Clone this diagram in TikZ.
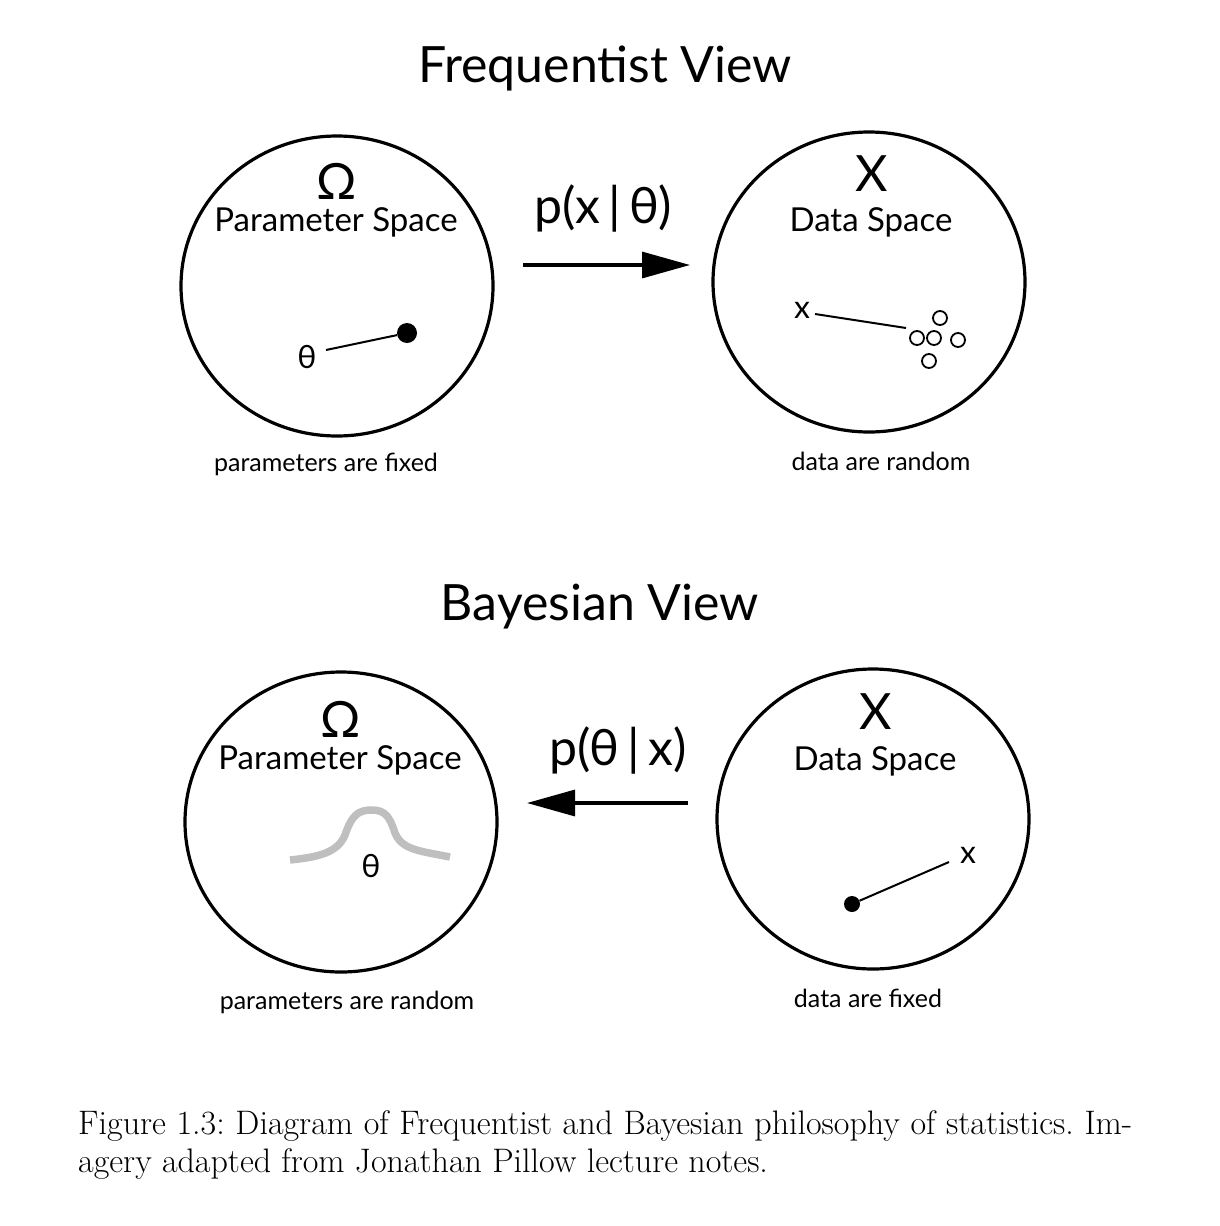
\documentclass[tikz,border=0pt]{standalone}
\usepackage{fontspec}
\setmainfont{Latin Modern Roman}
\newfontfamily\dsans{Lato}
\usetikzlibrary{arrows.meta,shapes.geometric}
\begin{document}
\begin{tikzpicture}[x=1pt,y=-1pt,
  space/.style={draw,line width=3.2pt,ellipse,minimum width=312pt,minimum height=300pt,inner sep=0pt},
  ttl/.style={inner sep=0pt,font=\dsans\fontsize{50}{60}\selectfont},
  big/.style={inner sep=0pt,font=\dsans\fontsize{50}{60}\selectfont},
  sub/.style={inner sep=0pt,font=\dsans\fontsize{33}{40}\selectfont},
  lab/.style={inner sep=0pt,font=\dsans\fontsize{25}{30}\selectfont},
  var/.style={inner sep=0pt,font=\dsans\fontsize{32}{38}\selectfont},
  prob/.style={inner sep=0pt,font=\dsans\fontsize{50}{58}\selectfont},
  thin/.style={line width=2pt},
  dot/.style={circle,fill=black,inner sep=0pt},
  odot/.style={circle,draw,line width=1.8pt,minimum size=14pt,inner sep=0pt},
  bigarrow/.style={line width=3.2pt,-{Triangle[length=48pt,width=26pt]}}
]
\useasboundingbox (0,0) rectangle (1220,1226);
% ---------- Frequentist ----------
\node[ttl] (t1) at (605,68) {Frequentist View};
\node[space] (ps1) at (337,286) {};
\node[space] (ds1) at (869,282) {};
\node[big] (om1) at (337,181) {Ω};
\node[sub] (pst1) at (336,222) {Parameter Space};
\node[big] (X1) at (872,174) {X};
\node[sub] (dst1) at (871,222) {Data Space};
\node[var] (th1) at (307,357) {θ};
\node[dot,minimum size=20pt] (pd1) at (407,333) {};
\coordinate (th1e) at (326,350);
\draw[thin] (th1e) -- (pd1);
\node[var] (x1) at (802,310) {x};
\coordinate (x1s) at (815,314);
\coordinate (x1e) at (906,328);
\draw[thin] (x1s) -- (x1e);
\node[odot] (o1) at (940,318) {};
\node[odot] (o2) at (917,338) {};
\node[odot] (o3) at (934,338) {};
\node[odot] (o4) at (958,340) {};
\node[odot] (o5) at (929,361) {};
\node[prob] (p1) at (603,208) {p(x\,|\,θ)};
\coordinate (a1s) at (523,265);
\coordinate (a1e) at (690,265);
\draw[bigarrow] (a1s) -- (a1e);
\node[lab] (l1) at (326,464) {parameters are fixed};
\node[lab] (l2) at (881,461) {data are random};
% ---------- Bayesian ----------
\node[ttl] (t2) at (600,607) {Bayesian View};
\node[space] (ps2) at (341,822) {};
\node[space] (ds2) at (873,819) {};
\node[big] (om2) at (341,719) {Ω};
\node[sub] (pst2) at (340,760) {Parameter Space};
\node[big] (X2) at (876,712) {X};
\node[sub] (dst2) at (875,761) {Data Space};
\draw[line width=7.5pt,color=black!25,line cap=butt]
  (290,860) .. controls (320,857) and (338,852) .. (345,835)
  .. controls (352,815) and (358,810) .. (372,810)
  .. controls (386,810) and (390,818) .. (395,833)
  .. controls (402,850) and (420,851) .. (450,857);
\node[var] (th2) at (371,866) {θ};
\node[prob] (p2) at (618,750) {p(θ\,|\,x)};
\coordinate (a2s) at (688,803);
\coordinate (a2e) at (527,803);
\draw[bigarrow] (a2s) -- (a2e);
\node[dot,minimum size=16pt] (dd2) at (852,904) {};
\coordinate (x2e) at (949,862);
\draw[thin] (dd2) -- (x2e);
\node[var] (x2) at (968,855) {x};
\node[lab] (l3) at (347,1002) {parameters are random};
\node[lab] (l4) at (868,998) {data are fixed};
% ---------- caption ----------
\node[anchor=north west,inner sep=0pt,font=\fontsize{34}{38}\selectfont] (cap) at (78,1110)
  {\parbox{1054pt}{\frenchspacing Figure 1.3: Diagram of Frequentist and Bayesian philosophy of statistics. Im-\linebreak agery adapted from Jonathan Pillow lecture notes.}};
\end{tikzpicture}
\end{document}
